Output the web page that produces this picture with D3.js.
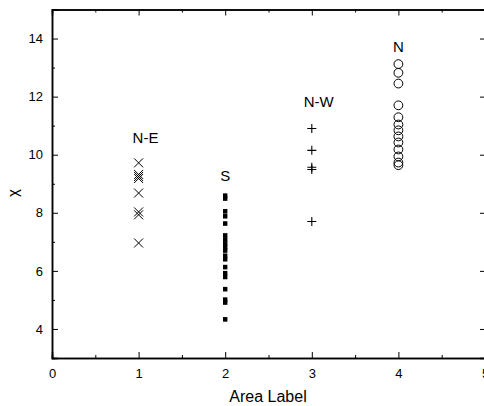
<!DOCTYPE html>
<html><head><meta charset="utf-8">
<script src="https://cdn.jsdelivr.net/npm/d3@7"></script>
<style>body{margin:0;background:#fff}svg{display:block}text{font-family:Arial,"Liberation Sans",sans-serif}</style>
</head><body><svg id="c" width="484" height="406"></svg>
<script>
const groupX = [1, 2, 3, 4];
const groupLabels = ["N-E", "S", "N-W", "N"];
const labelY = [10.42, 9.08, 11.63, 13.53];
const labelDx = [0.08, 0, 0.08, 0];
const neValues = [9.72, 9.32, 9.25, 9.18, 8.68, 8.03, 7.93, 6.96];
const sValues = [8.59, 8.49, 8.05, 7.88, 7.63, 7.22, 7.08, 6.94, 6.82, 6.70, 6.52, 6.40, 6.13, 5.92, 5.79, 5.37, 5.01, 4.91, 4.33];
const nwValues = [10.90, 10.15, 9.57, 9.49, 7.70];
const nValues = [13.12, 12.82, 12.45, 11.70, 11.29, 11.04, 10.84, 10.63, 10.42, 10.18, 9.94, 9.73, 9.64];
const xTicks = [0, 1, 2, 3, 4, 5];
const yTicks = [4, 6, 8, 10, 12, 14];

const svg = d3.select("#c");
const x = d3.scaleLinear().domain([0, 5]).range([52, 485]);
const y = d3.scaleLinear().domain([3, 15]).range([358, 9.5]);

function frame(axisGen, tr) {
  const g = svg.append("g").attr("transform", tr).call(axisGen);
  g.select(".domain").attr("stroke", "#000").attr("stroke-width", 1.5);
  g.selectAll(".tick line").attr("stroke", "#000").attr("stroke-width", 1);
  g.selectAll("text").attr("font-size", 13).attr("fill", "#000");
  return g;
}
const xMinor = d3.range(0.5, 5, 1);
const yMinor = d3.range(5, 15, 2);
// bottom
frame(d3.axisBottom(x).tickValues(xTicks).tickSize(-6).tickPadding(11).tickFormat(d3.format("d")), "translate(0,358)");
frame(d3.axisBottom(x).tickValues(xMinor).tickSize(-3).tickFormat(""), "translate(0,358)");
// top
frame(d3.axisTop(x).tickValues(xTicks).tickSize(-6).tickFormat(""), "translate(0,9.5)");
frame(d3.axisTop(x).tickValues(xMinor).tickSize(-3).tickFormat(""), "translate(0,9.5)");
// left
frame(d3.axisLeft(y).tickValues(yTicks).tickSize(-6).tickPadding(9).tickFormat(d3.format("d")), "translate(52,0)");
frame(d3.axisLeft(y).tickValues(yMinor).tickSize(-3).tickFormat(""), "translate(52,0)");
// right (just outside the view)
frame(d3.axisRight(y).tickValues(yTicks).tickSize(-6).tickFormat(""), "translate(486,0)");

// axis titles
svg.append("text").attr("x", 268).attr("y", 402).attr("text-anchor", "middle").attr("font-size", 16).text("Area Label");
svg.append("text").attr("transform", "translate(18,193) rotate(-90)").attr("text-anchor", "middle").attr("font-size", 15).text("χ");

// N-E crosses
const cs = 4.5;
svg.append("g").selectAll("path").data(neValues).join("path")
  .attr("d", d => { const cx = x(groupX[0]), cy = y(d); return `M${cx-cs},${cy-cs}L${cx+cs},${cy+cs}M${cx-cs},${cy+cs}L${cx+cs},${cy-cs}`; })
  .attr("stroke", "#000").attr("stroke-width", 1).attr("fill", "none");
// S squares
svg.append("g").selectAll("rect").data(sValues).join("rect")
  .attr("x", x(groupX[1]) - 2.2).attr("y", d => y(d) - 2.3).attr("width", 4.4).attr("height", 4.6).attr("fill", "#000");
// N-W plus
const ps = 4.5;
svg.append("g").selectAll("path").data(nwValues).join("path")
  .attr("d", d => { const cx = x(groupX[2]), cy = y(d); return `M${cx-ps},${cy}L${cx+ps},${cy}M${cx},${cy-ps}L${cx},${cy+ps}`; })
  .attr("stroke", "#000").attr("stroke-width", 1.1).attr("fill", "none");
// N circles
svg.append("g").selectAll("circle").data(nValues).join("circle")
  .attr("cx", x(groupX[3])).attr("cy", d => y(d)).attr("r", 4.4)
  .attr("fill", "none").attr("stroke", "#000").attr("stroke-width", 1);

// group labels
svg.append("g").selectAll("text").data(groupLabels).join("text")
  .attr("x", (d, i) => x(groupX[i] + labelDx[i])).attr("y", (d, i) => y(labelY[i]))
  .attr("text-anchor", "middle").attr("font-size", 15).text(d => d);
</script></body></html>
